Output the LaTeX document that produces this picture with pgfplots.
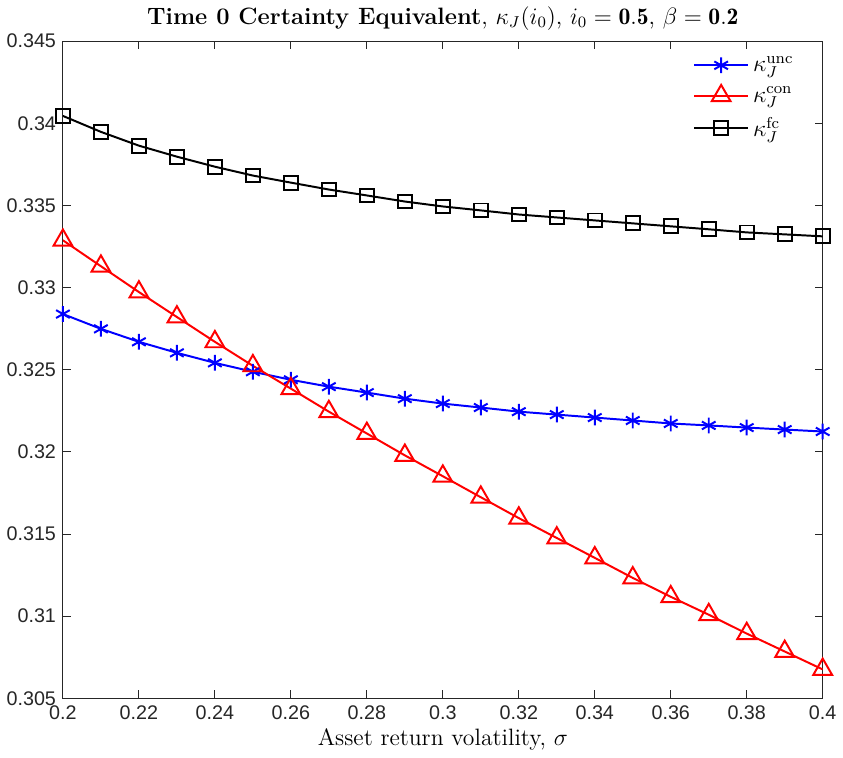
\documentclass[border=0pt]{standalone}
\usepackage{fontspec}
\setsansfont{Liberation Sans}
\usepackage{pgfplots}
\pgfplotsset{compat=1.18}
\definecolor{axgray}{gray}{0.15}

\begin{document}
\begin{tikzpicture}
\begin{axis}[
  scale only axis,
  width=385pt, height=333pt,
  xmin=0.2, xmax=0.4, ymin=0.305, ymax=0.345,
  xtick={0.2,0.22,0.24,0.26,0.28,0.3,0.32,0.34,0.36,0.38,0.4},
  ytick={0.305,0.31,0.315,0.32,0.325,0.33,0.335,0.34,0.345},
  scaled ticks=false,
  yticklabel style={/pgf/number format/.cd, fixed, precision=3},
  xticklabel style={/pgf/number format/.cd, fixed, precision=2},
  /pgf/number format/assume math mode=true,
  ticklabel style={font=\sffamily\fontsize{10}{12}\selectfont, text=black!85},
  tick align=inside, major tick length=4pt,
  axis line style={axgray, line width=0.5pt},
  tick style={axgray, line width=0.5pt},
  title={\textbf{Time 0 Certainty Equivalent}, $\kappa_J(i_0)$, $i_0 = \mathbf{0.5}$, $\beta = \mathbf{0.2}$},
  title style={font=\large, yshift=-4pt},
  xlabel={Asset return volatility, $\sigma$},
  xlabel style={font=\large, yshift=2pt},
  legend style={at={(0.975,0.99)}, anchor=north east, draw=none, fill=none,
    font=\large, row sep=2pt},
  legend cell align=left,
  legend image code/.code={\draw[mark repeat=2,mark phase=2] plot coordinates {(0cm,0cm) (0.48cm,0cm) (0.96cm,0cm)};},
  every axis plot/.append style={line width=1pt},
]
\addplot[blue, mark=asterisk, mark size=4pt, mark options={line width=1pt}] coordinates {
(0.20,0.32839) (0.21,0.32749) (0.22,0.32670) (0.23,0.32603) (0.24,0.32542)
(0.25,0.32488) (0.26,0.32439) (0.27,0.32397) (0.28,0.32361) (0.29,0.32324)
(0.30,0.32294) (0.31,0.32270) (0.32,0.32245) (0.33,0.32227) (0.34,0.32209)
(0.35,0.32191) (0.36,0.32173) (0.37,0.32161) (0.38,0.32148) (0.39,0.32136)
(0.40,0.32124)};
\addlegendentry{$\kappa_J^{\mathrm{unc}}$}
\addplot[red, mark=triangle, mark size=5.5pt, mark options={line width=1pt}] coordinates {
(0.20,0.33288) (0.21,0.33130) (0.22,0.32973) (0.23,0.32821) (0.24,0.32670)
(0.25,0.32524) (0.26,0.32385) (0.27,0.32245) (0.28,0.32112) (0.29,0.31979)
(0.30,0.31852) (0.31,0.31724) (0.32,0.31597) (0.33,0.31476) (0.34,0.31355)
(0.35,0.31233) (0.36,0.31118) (0.37,0.31009) (0.38,0.30894) (0.39,0.30785)
(0.40,0.30676)};
\addlegendentry{$\kappa_J^{\mathrm{con}}$}
\addplot[black, mark=square, mark size=3.5pt, mark options={line width=1pt}] coordinates {
(0.20,0.34045) (0.21,0.33948) (0.22,0.33864) (0.23,0.33797) (0.24,0.33736)
(0.25,0.33682) (0.26,0.33639) (0.27,0.33597) (0.28,0.33561) (0.29,0.33524)
(0.30,0.33494) (0.31,0.33470) (0.32,0.33445) (0.33,0.33427) (0.34,0.33409)
(0.35,0.33391) (0.36,0.33373) (0.37,0.33355) (0.38,0.33336) (0.39,0.33324)
(0.40,0.33312)};
\addlegendentry{$\kappa_J^{\mathrm{fc}}$}
\end{axis}
\end{tikzpicture}
\end{document}
